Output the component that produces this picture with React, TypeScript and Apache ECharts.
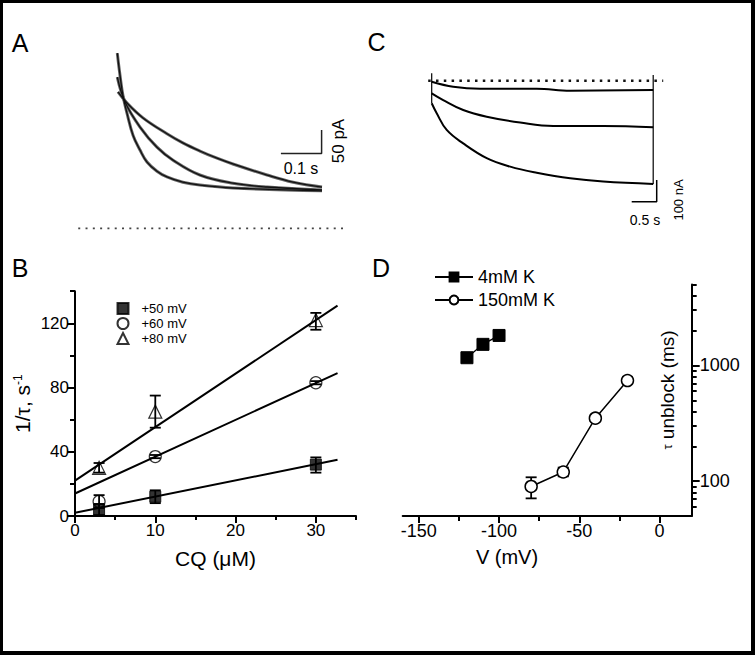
import React, { useEffect, useRef } from 'react';
import * as echarts from 'echarts';

const FONT = '"Liberation Sans", Arial, Helvetica, sans-serif';
const OFF = 3;

// ---------- Panel A: current decays (time in s, current in pA) ----------
const aFastT = [0, 0.0066, 0.014, 0.0238, 0.0386, 0.0558, 0.073, 0.0975, 0.122, 0.161, 0.203, 0.284, 0.503];
const aFastI = [365, 319, 276, 240, 194, 163, 138, 119, 107, 96, 90, 84, 78];
const aMidT = [0, 0.019, 0.0558, 0.0975, 0.137, 0.203, 0.284, 0.368, 0.503];
const aMidI = [315, 263, 211, 169, 142, 111, 94, 86, 80];
const aSlowT = [0.0017, 0.0238, 0.0631, 0.122, 0.161, 0.203, 0.245, 0.284, 0.368, 0.432, 0.503];
const aSlowI = [284, 261, 230, 197, 178, 161, 146, 134, 111, 96, 86];
const aBaselineT = [-0.096, 0.559];
const aScaleT = [0.402, 0.502, 0.502];
const aScaleI = [156, 156, 205];

// ---------- Panel C: traces (time in s, current in nA) ----------
const cTopT = [0, 0.43, 0.97, 2.1, 2.77, 4.43];
const cTopI = [-5, -28, -37, -37, -46, -43];
const cMidT = [0, 0.23, 0.63, 1.1, 1.77, 2.43, 3.43, 4.43];
const cMidI = [-58, -89, -135, -166, -193, -209, -209, -215];
const cBotT = [0, 0.1, 0.3, 0.63, 1.1, 1.57, 2.1, 2.77, 3.43, 4.43];
const cBotI = [-104, -150, -227, -289, -357, -396, -424, -450, -465, -476];
const cStartEdge = [34, -104];
const cEndEdge = [26, -476];
const cEndT = 4.43;
const cBaselineT = [-0.07, 4.63];
const cScaleT = [4.0, 4.5, 4.5];
const cScaleI = [-557.6, -557.6, -457.6];

// ---------- Panel B: 1/tau vs CQ ----------
const cq = [3, 10, 30];
const b50 = [4, 12, 32];
const b50Lo = [0.5, 8, 27];
const b50Hi = [7.5, 16, 36.5];
const b60 = [9, 37, 83];
const b60Lo = [5, 36, 82];
const b60Hi = [13, 38, 84];
const b80 = [30, 65, 122];
const b80Lo = [27, 55, 116];
const b80Hi = [33, 75, 126.5];
const fitX = [0, 32.7];
const fit50 = [2, 35];
const fit60 = [14, 89];
const fit80 = [22, 131];

// ---------- Panel D: tau unblock vs V ----------
const v4 = [-120, -110, -100];
const tau4 = [1165, 1520, 1815];
const v150 = [-80, -60, -40, -20];
const tau150 = [90, 120, 350, 740];
const tau150Lo = [71, 110, 330, 700];
const tau150Hi = [108, 131, 372, 790];

const zip = (a: number[], b: number[]) => a.map((v, i) => [v, b[i]]);

const txt = (text: string, x: number, y: number, size: number, rot = 0, rich?: any) => ({
  type: 'text',
  x: x - OFF,
  y: y - OFF,
  rotation: rot,
  z: 100,
  style: {
    text,
    fill: '#000',
    font: `${size}px ${FONT}`,
    fontSize: size,
    fontFamily: FONT,
    textAlign: 'center',
    textVerticalAlign: 'middle',
    align: 'center',
    verticalAlign: 'middle',
    rich,
  },
});

const errRender = (lw: number, cap: number) => (params: any, api: any) => {
  const x = api.value(0);
  const p1 = api.coord([x, api.value(1)]);
  const p2 = api.coord([x, api.value(2)]);
  const st = { stroke: '#000', lineWidth: lw };
  return {
    type: 'group',
    children: [
      { type: 'line', shape: { x1: p1[0], y1: p1[1], x2: p2[0], y2: p2[1] }, style: st },
      { type: 'line', shape: { x1: p1[0] - cap / 2, y1: p1[1], x2: p1[0] + cap / 2, y2: p1[1] }, style: st },
      { type: 'line', shape: { x1: p2[0] - cap / 2, y1: p2[1], x2: p2[0] + cap / 2, y2: p2[1] }, style: st },
    ],
  };
};

export default function App() {
  const ref = useRef<HTMLDivElement>(null);
  useEffect(() => {
    if (!ref.current) return;
    const chart = echarts.init(ref.current, null, { renderer: 'svg', width: 748, height: 648 });
    const g = (l: number, t: number, w: number, h: number) => ({ left: l - OFF, top: t - OFF, width: w, height: h });
    const black = '#000';
    const tickAxis = (extra: any) => ({
      splitLine: { show: false },
      axisLine: { show: true, onZero: false, lineStyle: { color: black, width: 2 } },
      ...extra,
    });
    const minorAxis = (extra: any) => ({
      splitLine: { show: false },
      axisLine: { show: false, onZero: false },
      axisLabel: { show: false },
      ...extra,
    });
    const hidden = (gi: number, min: number, max: number) => ({ type: 'value', gridIndex: gi, min, max, show: false });

    const trace = (name: string, data: number[][], xi: number, yi: number, color: string, width: number, z = 3) => ({
      type: 'line', name, data, xAxisIndex: xi, yAxisIndex: yi, symbol: 'none', smooth: 0.4,
      lineStyle: { color, width }, itemStyle: { color }, z, silent: true,
    });
    const straight = (data: number[][], xi: number, yi: number, lineStyle: any) => ({
      type: 'line', data, xAxisIndex: xi, yAxisIndex: yi, symbol: 'none', lineStyle, silent: true, z: 2,
    });

    const option: any = {
      animation: false,
      backgroundColor: '#fff',
      textStyle: { fontFamily: FONT, color: black },
      grid: [
        g(76.6, 36.3, 268.6, 201.6), // A
        g(426.7, 59, 240, 151.9), // C
        g(75, 291.2, 281, 224.8), // B
        g(402.7, 284.5, 289, 231.5), // D
      ],
      xAxis: [
        hidden(0, -0.1, 0.56),
        hidden(1, -0.1, 4.7),
        tickAxis({
          type: 'value', gridIndex: 2, min: 0, max: 35, position: 'bottom',
          name: 'CQ (μM)', nameLocation: 'middle', nameGap: 32,
          nameTextStyle: { fontSize: 21, color: black, fontFamily: FONT },
          axisTick: { show: true, customValues: [0, 10, 20, 30], length: 7, lineStyle: { color: black, width: 2 } },
          axisLabel: { show: true, customValues: [0, 10, 20, 30], fontSize: 17, color: black, fontFamily: FONT, margin: 6 },
        }),
        minorAxis({
          type: 'value', gridIndex: 2, min: 0, max: 35, position: 'bottom',
          axisTick: { show: true, customValues: [5, 15, 25, 35], length: 4, lineStyle: { color: black, width: 2 } },
        }),
        tickAxis({
          type: 'value', gridIndex: 3, min: -160, max: 20, position: 'bottom',
          axisTick: { show: true, customValues: [-150, -100, -50, 0], length: 7, lineStyle: { color: black, width: 2 } },
          axisLabel: { show: true, customValues: [-150, -100, -50, 0], fontSize: 18, color: black, fontFamily: FONT, margin: 6 },
        }),
        minorAxis({
          type: 'value', gridIndex: 3, min: -160, max: 20, position: 'bottom',
          axisTick: { show: true, customValues: [-125, -75, -25], length: 5, lineStyle: { color: black, width: 2 } },
        }),
      ],
      yAxis: [
        hidden(0, -20, 400),
        hidden(1, -600, 100),
        tickAxis({
          type: 'value', gridIndex: 2, min: 0, max: 140, position: 'left',
          name: '1/τ, s{sup|-1}', nameLocation: 'middle', nameGap: 42, nameRotate: 90,
          nameTextStyle: {
            fontSize: 21, color: black, fontFamily: FONT,
            rich: { sup: { fontSize: 12, verticalAlign: 'top', color: black, fontFamily: FONT } },
          },
          axisTick: { show: true, customValues: [0, 40, 80, 120], length: 8, lineStyle: { color: black, width: 2 } },
          axisLabel: { show: true, customValues: [0, 40, 80, 120], fontSize: 17, color: black, fontFamily: FONT, margin: 6 },
        }),
        minorAxis({
          type: 'value', gridIndex: 2, min: 0, max: 140, position: 'left',
          axisTick: { show: true, customValues: [20, 60, 100, 140], length: 5, lineStyle: { color: black, width: 2 } },
        }),
        tickAxis({
          type: 'log', logBase: 10, gridIndex: 3, min: 50, max: 5000, position: 'right',
          axisTick: { show: true, customValues: [100, 1000], length: 8, lineStyle: { color: black, width: 2 } },
          axisLabel: {
            show: true, customValues: [100, 1000], fontSize: 18, color: black, fontFamily: FONT, margin: 8,
            formatter: (v: number) => String(Math.round(v)),
          },
        }),
        minorAxis({
          type: 'log', logBase: 10, gridIndex: 3, min: 50, max: 5000, position: 'right',
          axisTick: {
            show: true, length: 5, lineStyle: { color: black, width: 2 },
            customValues: [60, 70, 80, 90, 200, 300, 400, 500, 600, 700, 800, 900, 2000, 3000, 4000, 5000],
          },
        }),
      ],
      legend: [
        {
          orient: 'vertical', left: 111.5 - OFF, top: 297 - OFF, itemWidth: 11, itemHeight: 11, itemGap: 2,
          selectedMode: false, data: ['+50 mV', '+60 mV', '+80 mV'],
          textStyle: { fontSize: 13, color: black, fontFamily: FONT, padding: [0, 0, 0, 8] },
        },
        {
          orient: 'vertical', left: 429 - OFF, top: 263 - OFF, itemWidth: 38, itemHeight: 11, itemGap: 5,
          selectedMode: false, data: ['4mM K', '150mM K'],
          textStyle: { fontSize: 18, color: black, fontFamily: FONT },
        },
      ],
      series: [
        // Panel A
        trace('a-fast-raw', zip(aFastT, aFastI), 0, 0, '#666', 3),
        trace('a-mid-raw', zip(aMidT, aMidI), 0, 0, '#666', 3),
        trace('a-slow-raw', zip(aSlowT, aSlowI), 0, 0, '#666', 3),
        trace('a-fast-fit', zip(aFastT, aFastI), 0, 0, '#111', 1.3, 4),
        trace('a-mid-fit', zip(aMidT, aMidI), 0, 0, '#111', 1.3, 4),
        trace('a-slow-fit', zip(aSlowT, aSlowI), 0, 0, '#111', 1.3, 4),
        straight(zip(aBaselineT, [0, 0]), 0, 0, { color: '#444', width: 1.8, type: [2, 5.3] }),
        straight(zip(aScaleT, aScaleI), 0, 0, { color: '#222', width: 1.5 }),
        // Panel C
        trace('c-top', zip(cTopT, cTopI), 1, 1, '#000', 2),
        trace('c-mid', zip(cMidT, cMidI), 1, 1, '#000', 2),
        trace('c-bot', zip(cBotT, cBotI), 1, 1, '#000', 2),
        straight(zip([0, 0], cStartEdge), 1, 1, { color: '#000', width: 1.2 }),
        straight(zip([cEndT, cEndT], cEndEdge), 1, 1, { color: '#000', width: 1.2 }),
        straight(zip(cBaselineT, [0, 0]), 1, 1, { color: '#111', width: 2.5, type: [2.5, 5.3] }),
        straight(zip(cScaleT, cScaleI), 1, 1, { color: '#000', width: 1.5 }),
        // Panel B
        straight(zip(fitX, fit50), 2, 2, { color: '#000', width: 2 }),
        straight(zip(fitX, fit60), 2, 2, { color: '#000', width: 2 }),
        straight(zip(fitX, fit80), 2, 2, { color: '#000', width: 2 }),
        {
          type: 'custom', xAxisIndex: 2, yAxisIndex: 2, z: 3, silent: true,
          renderItem: errRender(1.8, 11),
          data: [
            ...cq.map((x, i) => [x, b50Lo[i], b50Hi[i]]),
            ...cq.map((x, i) => [x, b60Lo[i], b60Hi[i]]),
            ...cq.map((x, i) => [x, b80Lo[i], b80Hi[i]]),
          ],
        },
        {
          type: 'scatter', name: '+50 mV', xAxisIndex: 2, yAxisIndex: 2, data: zip(cq, b50), z: 4,
          symbol: 'rect', symbolSize: 11, itemStyle: { color: '#000', borderColor: '#000', borderWidth: 1 },
        },
        {
          type: 'scatter', name: '+60 mV', xAxisIndex: 2, yAxisIndex: 2, data: zip(cq, b60), z: 4,
          symbol: 'circle', symbolSize: 12, itemStyle: { color: 'rgba(255,255,255,0)', borderColor: '#000', borderWidth: 1.2 },
        },
        {
          type: 'scatter', name: '+80 mV', xAxisIndex: 2, yAxisIndex: 2, data: zip(cq, b80), z: 4,
          symbol: 'triangle', symbolSize: 13, itemStyle: { color: 'rgba(255,255,255,0)', borderColor: '#000', borderWidth: 1.2 },
        },
        // Panel D
        {
          type: 'custom', xAxisIndex: 4, yAxisIndex: 4, z: 3, silent: true,
          renderItem: errRender(1.8, 11),
          data: v150.map((x, i) => [x, tau150Lo[i], tau150Hi[i]]),
        },
        {
          type: 'line', name: '4mM K', xAxisIndex: 4, yAxisIndex: 4, data: zip(v4, tau4), z: 4,
          symbol: 'rect', symbolSize: 12, showAllSymbol: true,
          lineStyle: { color: '#000', width: 1.3 }, itemStyle: { color: '#000', borderColor: '#000', borderWidth: 1 },
        },
        {
          type: 'line', name: '150mM K', xAxisIndex: 4, yAxisIndex: 4, data: zip(v150, tau150), z: 4,
          symbol: 'circle', symbolSize: 12, showAllSymbol: true,
          lineStyle: { color: '#000', width: 1.5 }, itemStyle: { color: '#fff', borderColor: '#000', borderWidth: 1.5 },
        },
      ],
      graphic: [
        txt('A', 20, 42.5, 25),
        txt('C', 376.5, 42, 25),
        txt('B', 20, 268, 25),
        txt('D', 381, 268, 25),
        txt('0.1 s', 301, 168, 16),
        txt('50 pA', 338, 141, 17, Math.PI / 2),
        txt('0.5 s', 645, 220, 14),
        txt('100 nA', 678, 200, 13, Math.PI / 2),
        txt('V (mV)', 507, 557, 20),
        txt('{t|τ} unblock (ms)', 667, 390, 19, Math.PI / 2, { t: { fontSize: 13, fontFamily: FONT, fill: '#000', color: '#000' } }),
      ],
    };
    chart.setOption(option);
    return () => chart.dispose();
  }, []);
  return (
    <div style={{ position: 'fixed', left: 0, top: 0, width: 755, height: 655, background: '#000' }}>
      <div ref={ref} style={{ position: 'absolute', left: OFF, top: OFF, width: 748, height: 648, background: '#fff' }} />
    </div>
  );
}
